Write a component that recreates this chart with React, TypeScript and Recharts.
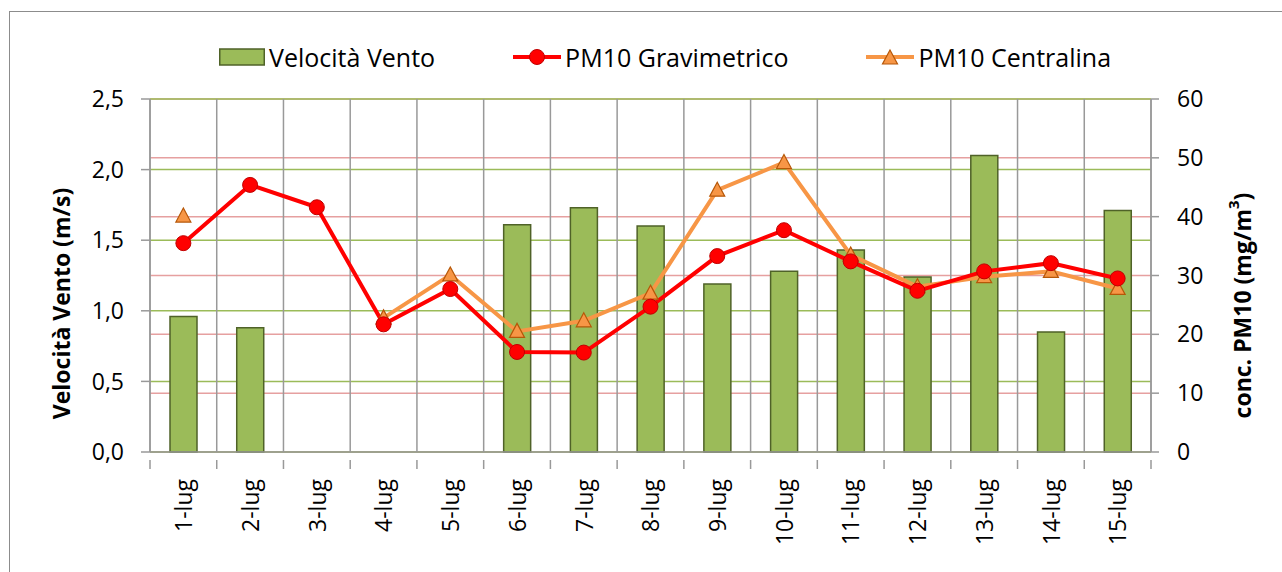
import React from 'react';
import {
  ComposedChart,
  Bar,
  Line,
  XAxis,
  YAxis,
  CartesianGrid,
  Legend,
  Label,
} from 'recharts';

const days = [
  '1-lug', '2-lug', '3-lug', '4-lug', '5-lug', '6-lug', '7-lug', '8-lug',
  '9-lug', '10-lug', '11-lug', '12-lug', '13-lug', '14-lug', '15-lug',
];
const windSpeed = [0.96, 0.88, null, null, null, 1.61, 1.73, 1.6, 1.19, 1.28, 1.43, 1.24, 2.1, 0.85, 1.71];
const pm10Grav = [35.5, 45.4, 41.6, 21.7, 27.7, 17.0, 16.9, 24.7, 33.3, 37.7, 32.4, 27.4, 30.7, 32.1, 29.5];
const pm10Centr = [40.1, null, null, 22.8, 30.1, 20.5, 22.3, 27.0, 44.5, 49.2, 33.5, 28.1, 29.8, 30.7, 27.8];
const windTicks = [0, 0.5, 1, 1.5, 2, 2.5];
const pmTicks = [0, 10, 20, 30, 40, 50, 60];

const data = days.map((day, i) => ({
  day,
  wind: windSpeed[i],
  grav: pm10Grav[i],
  centr: pm10Centr[i],
}));

const FONT = '"Open Sans", sans-serif';
const GREEN = '#9BBB59';
const BAR_EDGE = '#4F6228';
const RED = '#FF0000';
const ORANGE = '#F79646';
const GRID_GRAY = '#999999';

function Triangle({ cx, cy }: any) {
  if (cx == null || cy == null) return null;
  return (
    <path
      d={`M${cx},${cy - 8} L${cx + 7.5},${cy + 6} L${cx - 7.5},${cy + 6} Z`}
      fill={ORANGE}
      stroke="#B65708"
      strokeWidth={1.2}
    />
  );
}

function DayTick({ x, y, payload, index }: any) {
  const half = payload.offset || 0;
  return (
    <g>
      <line x1={x - half} y1={y} x2={x - half} y2={y + 9} stroke={GRID_GRAY} strokeWidth={1.5} />
      {index === days.length - 1 && (
        <line x1={x + half} y1={y} x2={x + half} y2={y + 9} stroke={GRID_GRAY} strokeWidth={1.5} />
      )}
      <text
        x={x}
        y={y + 19}
        dy="0.38em"
        transform={`rotate(-90, ${x}, ${y + 19})`}
        textAnchor="end"
        fontSize={23}
        fontFamily={FONT}
        fill="#000"
      >
        {payload.value}
      </text>
    </g>
  );
}

function LegendBox() {
  const item = { display: 'flex', alignItems: 'center', gap: 4 } as const;
  return (
    <div
      style={{
        display: 'flex',
        alignItems: 'center',
        gap: 78,
        paddingLeft: 219,
        fontFamily: FONT,
        fontSize: 25,
        lineHeight: '30px',
        color: '#000',
      }}
    >
      <div style={item}>
        <svg width={46} height={18}>
          <rect x={0.75} y={1} width={44.5} height={16} fill={GREEN} stroke={BAR_EDGE} strokeWidth={1.5} />
        </svg>
        <span>Velocità Vento</span>
      </div>
      <div style={item}>
        <svg width={48} height={18}>
          <line x1={0} y1={9} x2={48} y2={9} stroke={RED} strokeWidth={4} />
          <circle cx={24} cy={9} r={7.5} fill={RED} stroke="#C00000" strokeWidth={1} />
        </svg>
        <span>PM10 Gravimetrico</span>
      </div>
      <div style={item}>
        <svg width={48} height={18}>
          <line x1={0} y1={9} x2={48} y2={9} stroke={ORANGE} strokeWidth={4} />
          <Triangle cx={24} cy={10} />
        </svg>
        <span>PM10 Centralina</span>
      </div>
    </div>
  );
}

function AxisTitle({ viewBox, cxOffset, cyShift, children }: any) {
  const cx = viewBox.x + cxOffset;
  const cy = viewBox.y + viewBox.height / 2 + cyShift;
  return (
    <text
      x={cx}
      y={cy}
      transform={`rotate(-90, ${cx}, ${cy})`}
      textAnchor="middle"
      dominantBaseline="central"
      fontSize={23}
      fontWeight="bold"
      fontFamily={FONT}
      fill="#000"
    >
      {children}
    </text>
  );
}

export default function App() {
  return (
    <div style={{ position: 'absolute', left: 0, top: 0, width: 1282, height: 572, background: '#fff', overflow: 'hidden' }}>
      <div
        style={{
          position: 'absolute',
          left: 9,
          top: 11,
          width: 1273,
          height: 561,
          borderTop: '1.5px solid #8c8c8c',
          borderLeft: '1.5px solid #8c8c8c',
          boxSizing: 'border-box',
        }}
      />
      <div style={{ position: 'absolute', left: 0, top: 0 }}>
        <ComposedChart
          width={1282}
          height={572}
          data={data}
          margin={{ top: 99, right: 0, bottom: 0, left: 0 }}
          barSize={27}
        >
          <CartesianGrid
            yAxisId="right"
            vertical={false}
            stroke="#E6A0A0"
            strokeWidth={1.5}
          />
          <CartesianGrid
            yAxisId="left"
            vertical={false}
            stroke={GREEN}
            strokeWidth={1.5}
          />
          <CartesianGrid
            yAxisId="left"
            horizontal={false}
            stroke={GRID_GRAY}
            strokeWidth={1.5}
            verticalCoordinatesGenerator={({ offset }: any) =>
              days.map((_, i) => offset.left + (i * offset.width) / days.length).concat(offset.left + offset.width)
            }
          />
          <XAxis
            dataKey="day"
            height={120}
            interval={0}
            tickLine={false}
            axisLine={{ stroke: GRID_GRAY, strokeWidth: 1.5 }}
            tick={<DayTick />}
          />
          <YAxis
            yAxisId="left"
            width={150}
            domain={[0, 2.5]}
            ticks={windTicks}
            tickFormatter={(v: number) => v.toFixed(1).replace('.', ',')}
            tickSize={9}
            tickMargin={17}
            tick={{ fontSize: 23, fontFamily: FONT, fill: '#000' }}
            axisLine={{ stroke: GRID_GRAY, strokeWidth: 1.5 }}
            tickLine={{ stroke: GRID_GRAY, strokeWidth: 1.5 }}
          >
            <Label
              content={(props: any) => (
                <AxisTitle viewBox={props.viewBox} cxOffset={61} cyShift={28}>
                  Velocità Vento (m/s)
                </AxisTitle>
              )}
            />
          </YAxis>
          <YAxis
            yAxisId="right"
            orientation="right"
            width={131}
            domain={[0, 60]}
            ticks={pmTicks}
            tickSize={8}
            tickMargin={18}
            tick={{ fontSize: 23, fontFamily: FONT, fill: '#000' }}
            axisLine={{ stroke: GRID_GRAY, strokeWidth: 1.5 }}
            tickLine={{ stroke: GRID_GRAY, strokeWidth: 1.5 }}
          >
            <Label
              content={(props: any) => (
                <AxisTitle viewBox={props.viewBox} cxOffset={91} cyShift={30}>
                  conc. PM10 (mg/m<tspan dy="-9" fontSize={15}>3</tspan><tspan dy="9">)</tspan>
                </AxisTitle>
              )}
            />
          </YAxis>
          <Legend
            layout="horizontal"
            verticalAlign="middle"
            align="center"
            wrapperStyle={{ top: 42, left: 0, width: 1282 }}
            content={<LegendBox />}
          />
          <Bar
            yAxisId="left"
            dataKey="wind"
            name="Velocità Vento"
            fill={GREEN}
            stroke={BAR_EDGE}
            strokeWidth={1.5}
            isAnimationActive={false}
          />
          <Line
            yAxisId="right"
            dataKey="centr"
            name="PM10 Centralina"
            stroke={ORANGE}
            strokeWidth={4}
            dot={<Triangle />}
            activeDot={false}
            connectNulls={false}
            isAnimationActive={false}
          />
          <Line
            yAxisId="right"
            dataKey="grav"
            name="PM10 Gravimetrico"
            stroke={RED}
            strokeWidth={4}
            dot={{ r: 7.5, fill: RED, stroke: '#C00000', strokeWidth: 1 }}
            activeDot={false}
            isAnimationActive={false}
          />
        </ComposedChart>
      </div>
    </div>
  );
}
